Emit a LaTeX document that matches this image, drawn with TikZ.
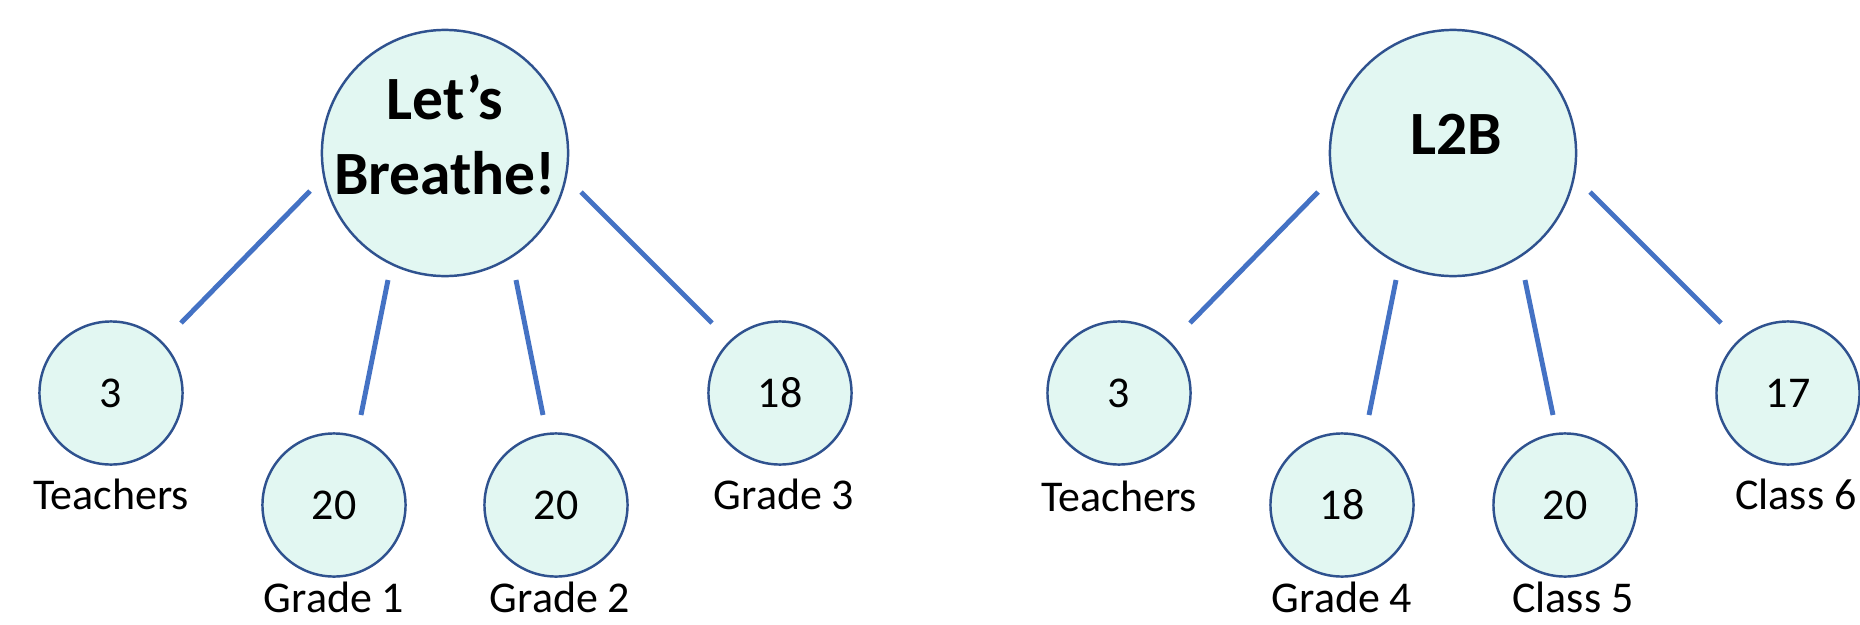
\documentclass[tikz,border=0pt]{standalone}
\usepackage{fontspec}
\setmainfont{Carlito}
\usetikzlibrary{calc}
\definecolor{nodefill}{HTML}{E2F7F2}
\definecolor{nodeline}{HTML}{2F528F}
\definecolor{linkblue}{HTML}{4472C4}
\tikzset{
    every node/.style={inner sep=0pt}
}

\begin{document}
\begin{tikzpicture}[
  x=0.01cm, y=-0.01cm,
  rootnode/.style={circle, draw=nodeline, fill=nodefill, line width=0.7pt, minimum size=2.46cm},
  leafnode/.style={circle, draw=nodeline, fill=nodefill, line width=0.7pt, minimum size=1.43cm, font=\fontsize{12.5}{15}\selectfont},
  roottext/.style={font=\fontsize{17.5}{21.3}\selectfont\bfseries, align=center},
  leaftext/.style={anchor=base, font=\fontsize{12.5}{15}\selectfont},
  link/.style={draw=linkblue, line width=1.4pt}
]
  \useasboundingbox (0,0) rectangle (1860,624);

  % Left tree
  \node[rootnode] (breathe) at (445,153) {};
  \node[roottext] (breathetext) at (445,135) {Let’s\\Breathe!};

  \node[leafnode] (lbteach) at ($(breathe)+(-334,240)$) {3};
  \node[leafnode] (lbgradeA) at ($(breathe)+(-111,352)$) {20};
  \node[leafnode] (lbgradeB) at ($(breathe)+(111,352)$) {20};
  \node[leafnode] (lbgradeC) at ($(breathe)+(335,240)$) {18};

  \node[leaftext] (lbteachlbl) at ($(lbteach)+(0,116)$) {Teachers};
  \node[leaftext] (lbgradeAlbl) at ($(lbgradeA)+(0,107)$) {Grade 1};
  \node[leaftext] (lbgradeBlbl) at ($(lbgradeB)+(4,107)$) {Grade 2};
  \node[leaftext] (lbgradeClbl) at ($(lbgradeC)+(4,116)$) {Grade 3};

  \draw[link] ($(breathe)+(-135,38)$) -- ($(lbteach)+(70,-70)$);
  \draw[link] ($(breathe)+(-57,127)$) -- ($(lbgradeA)+(27,-90)$);
  \draw[link] ($(breathe)+(71,127)$) -- ($(lbgradeB)+(-13,-90)$);
  \draw[link] ($(breathe)+(136,39)$) -- ($(lbgradeC)+(-68,-70)$);

  % Right tree
  \node[rootnode] (ltb) at (1453,153) {};
  \node[roottext] (ltbtext) at (1456,134) {L2B};

  \node[leafnode] (rtteach) at ($(ltb)+(-334,240)$) {3};
  \node[leafnode] (rtgradeD) at ($(ltb)+(-111,352)$) {18};
  \node[leafnode] (rtclassE) at ($(ltb)+(112,352)$) {20};
  \node[leafnode] (rtclassF) at ($(ltb)+(335,240)$) {17};

  \node[leaftext] (rtteachlbl) at ($(rtteach)+(0,118)$) {Teachers};
  \node[leaftext] (rtgradeDlbl) at ($(rtgradeD)+(0,107)$) {Grade 4};
  \node[leaftext] (rtclassElbl) at ($(rtclassE)+(8,107)$) {Class 5};
  \node[leaftext] (rtclassFlbl) at ($(rtclassF)+(8,116)$) {Class 6};

  \draw[link] ($(ltb)+(-135,39)$) -- ($(rtteach)+(71,-70)$);
  \draw[link] ($(ltb)+(-57,127)$) -- ($(rtgradeD)+(27,-90)$);
  \draw[link] ($(ltb)+(72,127)$) -- ($(rtclassE)+(-12,-90)$);
  \draw[link] ($(ltb)+(137,39)$) -- ($(rtclassF)+(-67,-70)$);
\end{tikzpicture}
\end{document}
